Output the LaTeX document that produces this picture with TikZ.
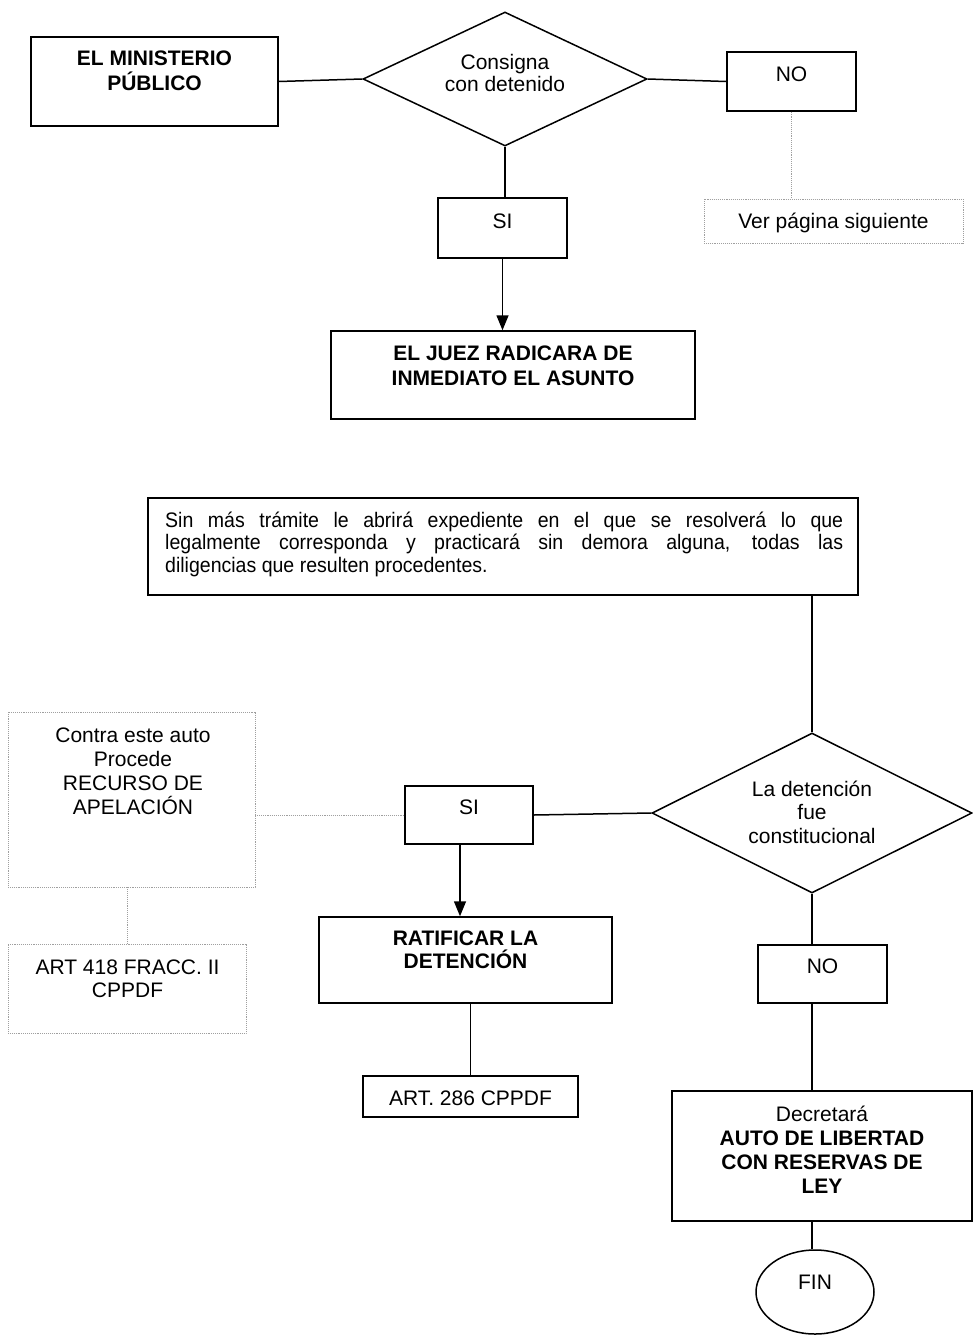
\documentclass[tikz,border=0pt]{standalone}
\usepackage{fontspec}
\setmainfont{Liberation Sans}
\newfontfamily\narrowsans[FakeStretch=0.93]{Liberation Sans}
\usetikzlibrary{shapes.geometric,arrows.meta}
\newcommand{\fs}{\fontsize{21}{24}\selectfont}
\tikzset{
  box/.style={draw, rectangle, line width=1.5pt, inner sep=0pt},
  dbox/.style={draw=gray!75, rectangle, densely dotted, line width=0.9pt, inner sep=0pt},
  decision/.style={draw, diamond, line width=1.5pt, inner sep=0pt},
  term/.style={draw, ellipse, line width=1.5pt, inner sep=0pt},
  lbl/.style={anchor=north, inner sep=0pt, align=center, font=\fs},
  conn/.style={line width=1.5pt},
  dconn/.style={draw=gray!75, densely dotted, line width=0.9pt},
  arr/.style={conn, -{Triangle[width=12pt,length=15pt]}}
}
\begin{document}
\begin{tikzpicture}[x=1pt,y=-1pt]
\useasboundingbox (0,0) rectangle (973,1335);
% ---- top part ----
\node[box, minimum width=247pt, minimum height=89pt] (mp) at (154.5,81.5) {};
\node[lbl, font=\fontsize{21}{25}\selectfont\bfseries] (mpt) at (154.5,50.5) {EL MINISTERIO\\PÚBLICO};
\node[decision, minimum width=284pt, minimum height=134pt] (d1) at (505,79) {};
\node[lbl, font=\fontsize{21}{22}\selectfont] (d1t) at (505,54.5) {Consigna\\con detenido};
\node[box, minimum width=129pt, minimum height=59pt] (no1) at (791.5,81.5) {};
\node[lbl] (no1t) at (791.5,66.5) {NO};
\node[dbox, minimum width=259pt, minimum height=44pt] (ver) at (833.5,221) {};
\node[lbl] (vert) at (833.5,212.5) {Ver página siguiente};
\node[box, minimum width=129pt, minimum height=60pt] (si1) at (502.5,228) {};
\node[lbl] (si1t) at (502.5,213.5) {SI};
\node[box, minimum width=364pt, minimum height=88pt] (juez) at (513,375) {};
\node[lbl, font=\fontsize{21}{25}\selectfont\bfseries] (juezt) at (513,345.5) {EL JUEZ RADICARA DE\\INMEDIATO EL ASUNTO};
\draw[conn] (mp.east) -- (d1.west);
\draw[conn] (d1.east) -- (no1.west);
\draw[conn] (d1.south) -- (d1.south |- si1.north);
\draw[dconn] (no1.south) -- (no1.south |- ver.north);
\draw[arr] (si1.south) -- (si1.south |- juez.north);
% ---- middle ----
\node[box, minimum width=710pt, minimum height=97pt] (sin) at (503,546.5) {};
\node[anchor=north west, inner sep=0pt, align=left, font=\narrowsans\fontsize{21}{22.5}\selectfont] (sint) at (165,511.5) {%
\makebox[678pt][s]{Sin más trámite le abrirá expediente en el que se resolverá lo que}\\
\makebox[678pt][s]{legalmente corresponda y practicará sin demora alguna, todas las}\\
diligencias que resulten procedentes.};
\node[decision, minimum width=320pt, minimum height=160pt] (d2) at (812,813) {};
\node[lbl, font=\fontsize{21}{23.5}\selectfont] (d2t) at (812,780.5) {La detención\\fue\\constitucional};
\node[box, minimum width=128pt, minimum height=58pt] (si2) at (469,815) {};
\node[lbl] (si2t) at (469,800) {SI};
\node[dbox, minimum width=247pt, minimum height=175pt] (contra) at (131.5,799.5) {};
\node[lbl] (contrat) at (133,727.5) {Contra este auto\\Procede\\RECURSO DE\\APELACIÓN};
\node[dbox, minimum width=238pt, minimum height=89pt] (art418) at (127,988.5) {};
\node[lbl, font=\fontsize{21}{23}\selectfont] (art418t) at (127.5,959.5) {ART 418 FRACC. II\\CPPDF};
\node[box, minimum width=293pt, minimum height=86pt] (ratif) at (465.5,960) {};
\node[lbl, font=\fontsize{21}{23}\selectfont\bfseries] (ratift) at (465.5,930.5) {RATIFICAR LA\\DETENCIÓN};
\node[box, minimum width=215pt, minimum height=41pt] (art286) at (470.5,1096.5) {};
\node[lbl] (art286t) at (470.5,1090.5) {ART. 286 CPPDF};
\node[box, minimum width=129pt, minimum height=58pt] (no2) at (822.5,974) {};
\node[lbl] (no2t) at (822.5,958.5) {NO};
\node[box, minimum width=300pt, minimum height=130pt] (decr) at (822,1156) {};
\node[lbl] (decrt) at (822,1105.5) {Decretará\\\textbf{AUTO DE LIBERTAD}\\\textbf{CON RESERVAS DE}\\\textbf{LEY}};
\node[term, minimum width=118pt, minimum height=84pt] (fin) at (815,1292) {};
\node[lbl] (fint) at (815,1274.5) {FIN};
\coordinate (a2) at ([xshift=-9pt]si2.south);
\draw[conn] (sin.south -| d2.north) -- (d2.north);
\draw[conn] (d2.west) -- (si2.east);
\draw[dconn] (si2.west) -- (si2.west -| contra.east);
\draw[dconn] (art418.north |- contra.south) -- (art418.north);
\draw[arr] (a2) -- (a2 |- ratif.north);
\draw[conn] (art286.north |- ratif.south) -- (art286.north);
\draw[conn] (d2.south) -- (d2.south |- no2.north);
\draw[conn] (d2.south |- no2.south) -- (d2.south |- decr.north);
\draw[conn] (d2.south |- decr.south) -- (d2.south |- fin.north);
\end{tikzpicture}
\end{document}
